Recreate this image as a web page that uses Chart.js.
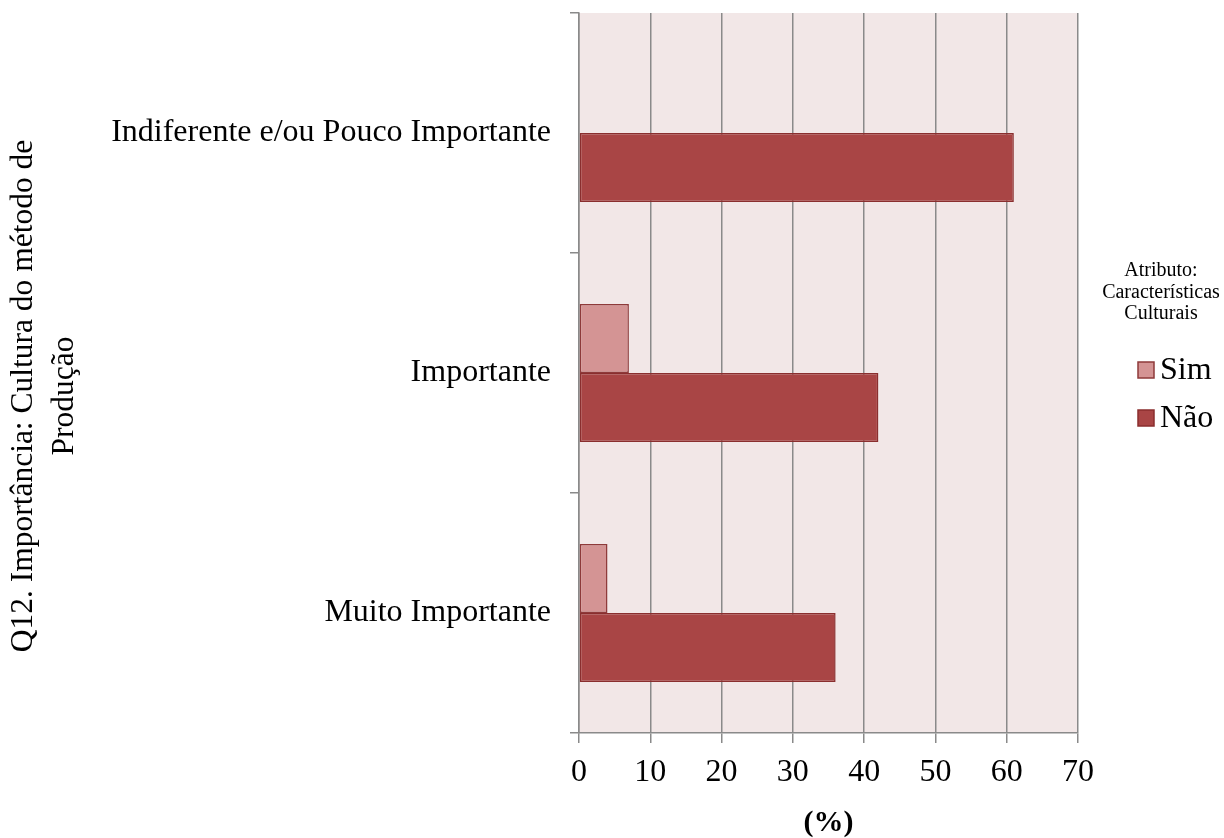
<!DOCTYPE html>
<html>
<head>
<meta charset="utf-8">
<style>
  html, body { margin: 0; padding: 0; background: #ffffff; }
  #wrap { width: 1224px; height: 838px; position: relative; }
</style>
<script src="https://cdn.jsdelivr.net/npm/chart.js@4/dist/chart.umd.min.js"></script>
</head>
<body>
<div id="wrap"><canvas id="chart" width="1224" height="838"></canvas></div>
<script>
// Survey answers: importance of the production method's culture
const categories = ['Indiferente e/ou Pouco Importante', 'Importante', 'Muito Importante'];
const simValues = [0, 7, 4];
const naoValues = [61, 42, 36];
const seriesNames = ['Sim', 'Não'];
const xTicks = [0, 10, 20, 30, 40, 50, 60, 70];
const legendTitle = ['Atributo:', 'Características', 'Culturais'];
const yTitle = ['Q12. Importância: Cultura do método de', 'Produção'];
const xTitle = '(%)';

const SERIF = '"Liberation Serif", "Times New Roman", serif';
const GRID = '#8a8a8a';

// Pale plot-area background
const plotBackground = {
  id: 'plotBackground',
  beforeDraw(chart) {
    const { ctx, chartArea: a } = chart;
    ctx.save();
    ctx.fillStyle = '#f2e7e7';
    ctx.fillRect(a.left, a.top, a.right - a.left, a.bottom - a.top);
    ctx.restore();
  }
};

// Two-line rotated title for the category axis
const categoryTitle = {
  id: 'categoryTitle',
  afterDraw(chart) {
    const { ctx } = chart;
    ctx.save();
    ctx.translate(0, 396);
    ctx.rotate(-Math.PI / 2);
    ctx.fillStyle = '#000';
    ctx.textAlign = 'center';
    ctx.textBaseline = 'middle';
    ctx.font = '31.5px ' + SERIF;
    yTitle.forEach((t, i) => ctx.fillText(t, 0, 24 + i * 41));
    ctx.restore();
  }
};

// Legend on the right with a three-line title
const sideLegend = {
  id: 'sideLegend',
  afterDraw(chart) {
    const { ctx } = chart;
    ctx.save();
    ctx.fillStyle = '#000';
    ctx.textAlign = 'center';
    ctx.textBaseline = 'middle';
    ctx.font = '20px ' + SERIF;
    legendTitle.forEach((t, i) => ctx.fillText(t, 1161, 271 + i * 21.5));
    chart.data.datasets.forEach((ds, i) => {
      const y = 370 + i * 48;
      ctx.fillStyle = ds.backgroundColor;
      ctx.strokeStyle = ds.borderColor;
      ctx.lineWidth = 1.5;
      ctx.fillRect(1138, y - 8, 16, 16);
      ctx.strokeRect(1138, y - 8, 16, 16);
      ctx.fillStyle = '#000';
      ctx.textAlign = 'left';
      ctx.font = '32px ' + SERIF;
      ctx.fillText(ds.label, 1160, y + 1);
    });
    ctx.restore();
  }
};

new Chart(document.getElementById('chart'), {
  type: 'bar',
  data: {
    labels: categories,
    datasets: [
      {
        label: seriesNames[0],
        data: simValues,
        backgroundColor: '#d49494',
        borderColor: '#8e3a3a',
        borderWidth: 1.5,
        borderSkipped: false
      },
      {
        label: seriesNames[1],
        data: naoValues,
        backgroundColor: '#a94545',
        borderColor: '#8a2e2e',
        borderWidth: 1.5,
        borderSkipped: false
      }
    ]
  },
  options: {
    indexAxis: 'y',
    responsive: false,
    animation: false,
    devicePixelRatio: 1,
    layout: { padding: { top: 13, right: 146, left: 0, bottom: 0 } },
    datasets: { bar: { categoryPercentage: 0.575, barPercentage: 1 } },
    plugins: {
      legend: { display: false },
      tooltip: { enabled: false }
    },
    scales: {
      x: {
        min: 0,
        max: 70,
        afterBuildTicks(scale) { scale.ticks = xTicks.map(v => ({ value: v })); },
        afterFit(scale) { scale.height = 105; scale.paddingLeft = 0; scale.paddingRight = 0; },
        grid: { color: GRID, lineWidth: 1.5, tickLength: 10, drawOnChartArea: true },
        border: { color: GRID, width: 1.5 },
        ticks: { color: '#000', font: { family: SERIF, size: 32 }, padding: 10 },
        title: {
          display: true,
          text: xTitle,
          color: '#000',
          font: { family: SERIF, size: 30, weight: 'bold', lineHeight: 1.2 },
          padding: { top: 0, bottom: -3 }
        }
      },
      y: {
        afterFit(scale) { scale.width = 579; scale.paddingTop = 0; scale.paddingBottom = 0; },
        grid: { color: GRID, lineWidth: 1.5, tickLength: 9, drawOnChartArea: false, offset: true },
        border: { color: GRID, width: 1.5 },
        ticks: { color: '#000', font: { family: SERIF, size: 32 }, padding: 19 },
        title: { display: false }
      }
    }
  },
  plugins: [plotBackground, categoryTitle, sideLegend]
});
</script>
</body>
</html>
